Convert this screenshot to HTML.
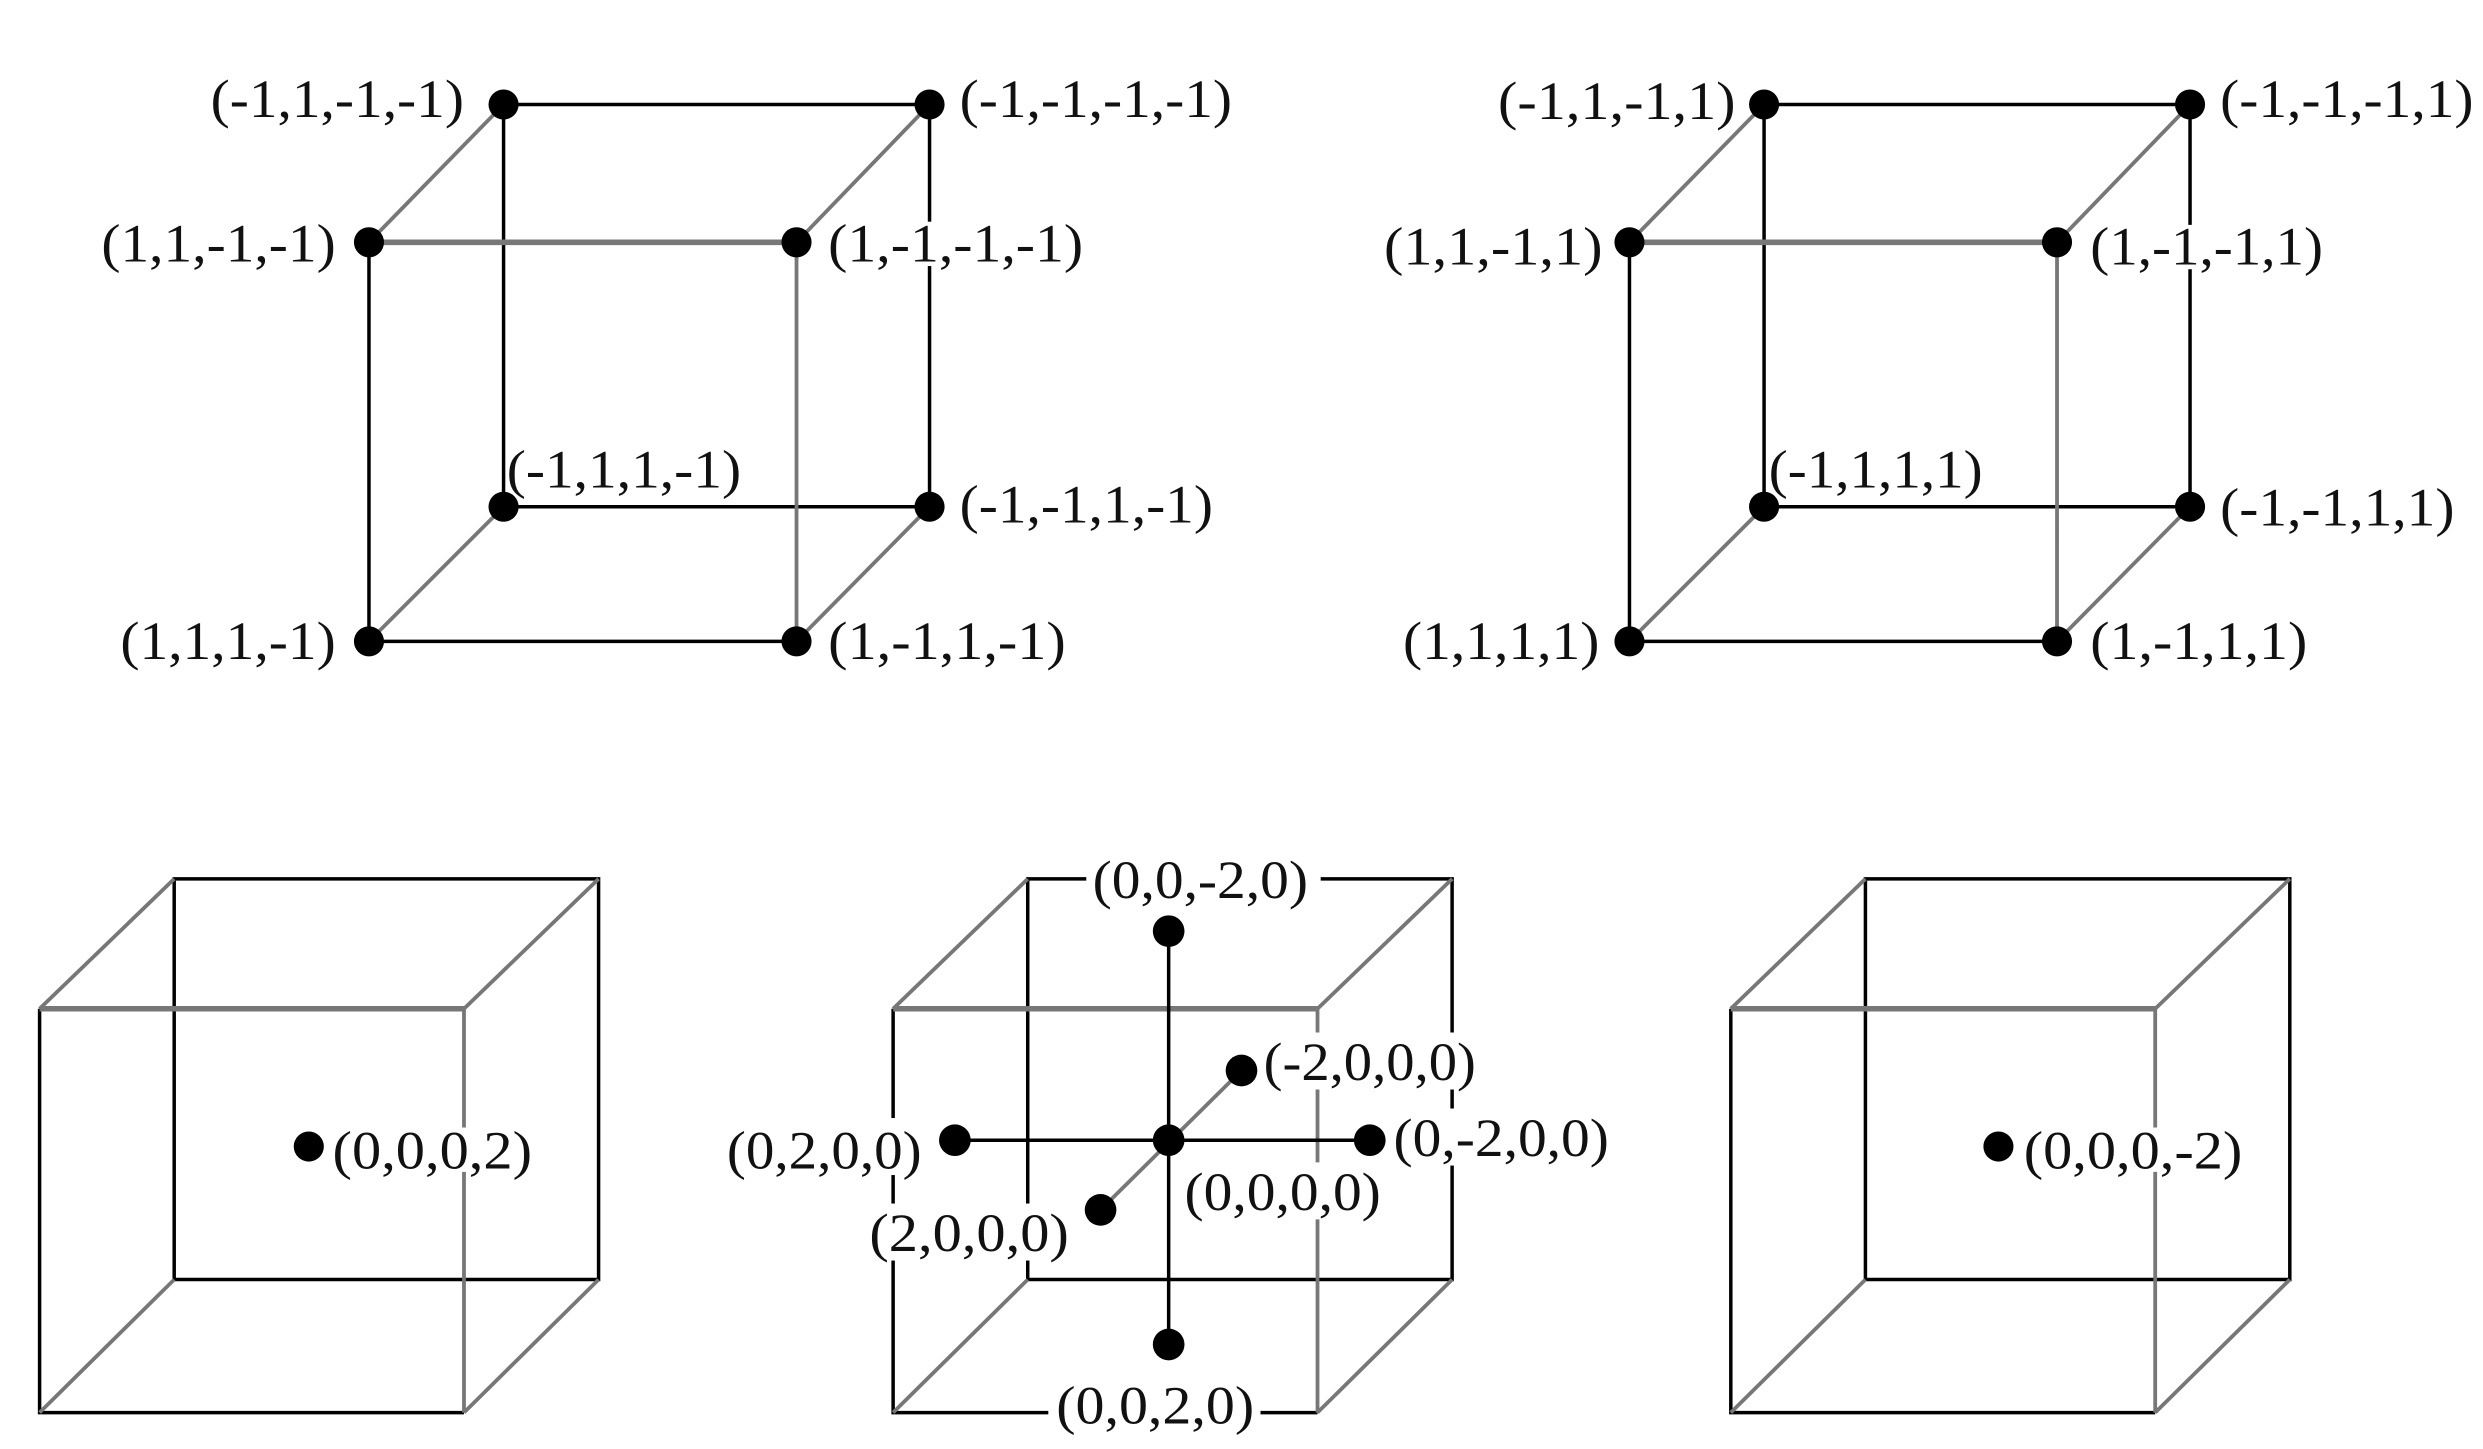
<!DOCTYPE html>
<html><head><meta charset="utf-8"><style>html,body{margin:0;padding:0;background:#fff}svg{display:block}</style></head><body>
<svg width="2483" height="1449" viewBox="0 0 1568 915" preserveAspectRatio="none" xmlns="http://www.w3.org/2000/svg">
<style>
.k{stroke:#000;stroke-width:2.2;fill:none}
.g{stroke:#777;stroke-width:2.4;fill:none}
.gt{stroke:#777;stroke-width:3.5;fill:none}
text{font-family:"Liberation Serif",serif;font-size:34px;fill:#111}
rect{fill:#fff}
</style>
<!-- cube 1 -->
<g>
<path class="k" d="M318 66H587M318 66V320M587 66V320M318 320H587M233 153V405M233 405H503"/>
<path class="g" d="M318 66L233 153M587 66L503 153M318 320L233 405M587 320L503 405M503 153V405"/>
<path class="gt" d="M233 153H503"/>
<g fill="#000"><circle cx="318" cy="66" r="9.5"/><circle cx="587" cy="66" r="9.5"/><circle cx="233" cy="153" r="9.5"/><circle cx="503" cy="153" r="9.5"/><circle cx="318" cy="320" r="9.5"/><circle cx="587" cy="320" r="9.5"/><circle cx="233" cy="405" r="9.5"/><circle cx="503" cy="405" r="9.5"/></g>
<rect x="523" y="140" width="161" height="28"/>
<text x="133" y="74" textLength="160" lengthAdjust="spacingAndGlyphs">(-1,1,-1,-1)</text>
<text x="606" y="74" textLength="172" lengthAdjust="spacingAndGlyphs">(-1,-1,-1,-1)</text>
<text x="64" y="165" textLength="148" lengthAdjust="spacingAndGlyphs">(1,1,-1,-1)</text>
<text x="523" y="165" textLength="161" lengthAdjust="spacingAndGlyphs">(1,-1,-1,-1)</text>
<text x="320" y="308" textLength="148" lengthAdjust="spacingAndGlyphs">(-1,1,1,-1)</text>
<text x="606" y="330" textLength="160" lengthAdjust="spacingAndGlyphs">(-1,-1,1,-1)</text>
<text x="76" y="416" textLength="136" lengthAdjust="spacingAndGlyphs">(1,1,1,-1)</text>
<text x="523" y="416" textLength="150" lengthAdjust="spacingAndGlyphs">(1,-1,1,-1)</text>
</g>
<!-- cube 2 -->
<g>
<path class="k" d="M1114 66H1383M1114 66V320M1383 66V320M1114 320H1383M1029 153V405M1029 405H1299"/>
<path class="g" d="M1114 66L1029 153M1383 66L1299 153M1114 320L1029 405M1383 320L1299 405M1299 153V405"/>
<path class="gt" d="M1029 153H1299"/>
<g fill="#000"><circle cx="1114" cy="66" r="9.5"/><circle cx="1383" cy="66" r="9.5"/><circle cx="1029" cy="153" r="9.5"/><circle cx="1299" cy="153" r="9.5"/><circle cx="1114" cy="320" r="9.5"/><circle cx="1383" cy="320" r="9.5"/><circle cx="1029" cy="405" r="9.5"/><circle cx="1299" cy="405" r="9.5"/></g>
<rect x="1320" y="142" width="147" height="28"/>
<text x="946" y="75" textLength="150" lengthAdjust="spacingAndGlyphs">(-1,1,-1,1)</text>
<text x="1402" y="74" textLength="160" lengthAdjust="spacingAndGlyphs">(-1,-1,-1,1)</text>
<text x="874" y="167" textLength="138" lengthAdjust="spacingAndGlyphs">(1,1,-1,1)</text>
<text x="1320" y="167" textLength="147" lengthAdjust="spacingAndGlyphs">(1,-1,-1,1)</text>
<text x="1117" y="308" textLength="135" lengthAdjust="spacingAndGlyphs">(-1,1,1,1)</text>
<text x="1402" y="332" textLength="148" lengthAdjust="spacingAndGlyphs">(-1,-1,1,1)</text>
<text x="886" y="416" textLength="124" lengthAdjust="spacingAndGlyphs">(1,1,1,1)</text>
<text x="1320" y="416" textLength="137" lengthAdjust="spacingAndGlyphs">(1,-1,1,1)</text>
</g>
<!-- bottom cube A -->
<g>
<path class="k" d="M110 555H378V808H110ZM25 637V892H293"/>
<path class="g" d="M110 555L25 637M378 555L293 637M110 808L25 892M378 808L293 892M293 637V892"/>
<path class="gt" d="M25 637H293"/>
<circle cx="195" cy="724" r="9.5" fill="#000"/>
<rect x="210" y="712" width="126" height="28"/>
<text x="210" y="738" textLength="126" lengthAdjust="spacingAndGlyphs">(0,0,0,2)</text>
</g>
<!-- bottom cube C -->
<g>
<path class="k" d="M1178 555H1446V808H1178ZM1093 637V892H1361"/>
<path class="g" d="M1178 555L1093 637M1446 555L1361 637M1178 808L1093 892M1446 808L1361 892M1361 637V892"/>
<path class="gt" d="M1093 637H1361"/>
<circle cx="1262" cy="724" r="9.5" fill="#000"/>
<rect x="1278" y="712" width="138" height="28"/>
<text x="1278" y="738" textLength="138" lengthAdjust="spacingAndGlyphs">(0,0,0,-2)</text>
</g>
<!-- bottom cube B -->
<g>
<path class="k" d="M649 555H917V808H649ZM564 637V892H832"/>
<path class="g" d="M649 555L564 637M917 555L832 637M649 808L564 892M917 808L832 892M832 637V892"/>
<path class="gt" d="M564 637H832"/>
<path class="k" d="M738 588V849M603 720H865"/>
<path class="g" d="M695 764L784 676"/>
<g fill="#000"><circle cx="738" cy="720" r="10"/><circle cx="738" cy="588" r="10"/><circle cx="738" cy="849" r="10"/><circle cx="603" cy="720" r="10"/><circle cx="865" cy="720" r="10"/><circle cx="695" cy="764" r="10"/><circle cx="784" cy="676" r="10"/></g>
<rect x="686" y="538" width="148" height="36"/>
<rect x="796" y="652" width="138" height="36"/>
<rect x="452" y="706" width="136" height="36"/>
<rect x="878" y="700" width="140" height="36"/>
<rect x="746" y="734" width="128" height="36"/>
<rect x="546" y="760" width="132" height="36"/>
<rect x="662" y="868" width="134" height="40"/>
<text x="690" y="567" textLength="136" lengthAdjust="spacingAndGlyphs">(0,0,-2,0)</text>
<text x="798" y="682" textLength="134" lengthAdjust="spacingAndGlyphs">(-2,0,0,0)</text>
<text x="459" y="738" textLength="123" lengthAdjust="spacingAndGlyphs">(0,2,0,0)</text>
<text x="880" y="730" textLength="136" lengthAdjust="spacingAndGlyphs">(0,-2,0,0)</text>
<text x="748" y="764" textLength="124" lengthAdjust="spacingAndGlyphs">(0,0,0,0)</text>
<text x="549" y="790" textLength="126" lengthAdjust="spacingAndGlyphs">(2,0,0,0)</text>
<text x="667" y="899" textLength="125" lengthAdjust="spacingAndGlyphs">(0,0,2,0)</text>
</g>
</svg>
</body></html>
